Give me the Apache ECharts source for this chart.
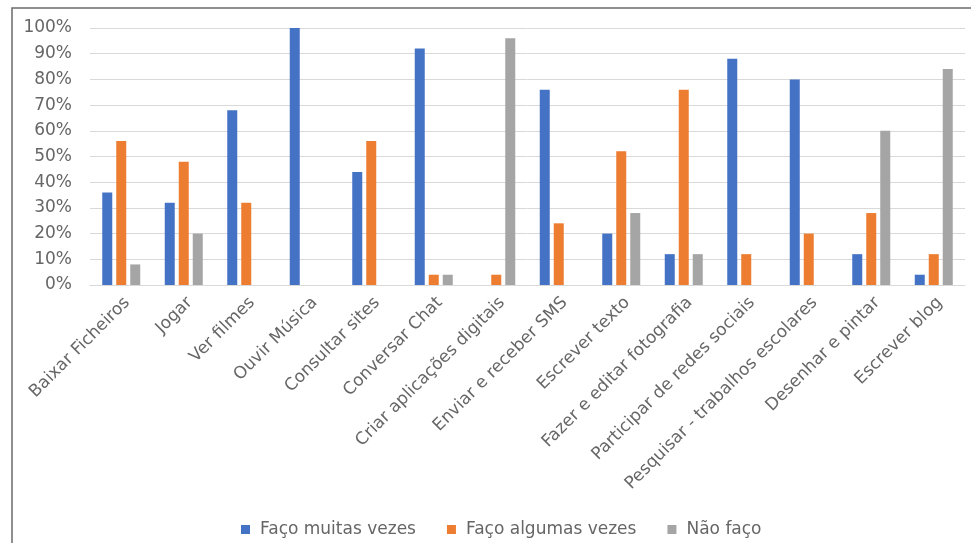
<!DOCTYPE html>
<html>
<head>
<meta charset="utf-8">
<script src="https://cdn.jsdelivr.net/npm/echarts@6/dist/echarts.min.js"></script>
<style>
  html, body { margin: 0; padding: 0; background: #fff; }
  #chart { width: 971px; height: 543px; }
</style>
</head>
<body>
<div id="chart"></div>
<script>
// Activities (x axis categories)
const categories = [
  'Baixar Ficheiros', 'Jogar', 'Ver filmes', 'Ouvir Música', 'Consultar sites',
  'Conversar Chat', 'Criar aplicações digitais', 'Enviar e receber SMS',
  'Escrever texto', 'Fazer e editar fotografia', 'Participar de redes sociais',
  'Pesquisar - trabalhos escolares', 'Desenhar e pintar', 'Escrever blog'
];

// Share of answers per activity, in percent
const facoMuitasVezes   = [36, 32, 68, 100, 44, 92, 0, 76, 20, 12, 88, 80, 12, 4];
const facoAlgumasVezes  = [56, 48, 32, 0, 56, 4, 4, 24, 52, 76, 12, 20, 28, 12];
const naoFaco           = [8, 20, 0, 0, 0, 4, 96, 0, 28, 12, 0, 0, 60, 84];

const seriesNames = ['Faço muitas vezes', 'Faço algumas vezes', 'Não faço'];
const yTicks = { min: 0, max: 100, interval: 10 };

const textColor = '#666666';
const fontFamily = '"DejaVu Sans", "Open Sans", sans-serif';

const chart = echarts.init(document.getElementById('chart'), null, { renderer: 'canvas' });

function barSeries(name, data, color) {
  return {
    name: name,
    type: 'bar',
    data: data,
    barWidth: 10,
    barGap: '40%',
    itemStyle: { color: color },
    emphasis: { disabled: true }
  };
}

chart.setOption({
  animation: false,
  textStyle: { fontFamily: fontFamily },
  graphic: [{
    type: 'rect',
    shape: { x: 12, y: 8, width: 975, height: 560 },
    style: { fill: 'none', stroke: '#6b6b6b', lineWidth: 1.5 },
    silent: true
  }],
  grid: { left: 90, right: 6, top: 28, bottom: 258, containLabel: false },
  legend: {
    data: seriesNames,
    left: 236,
    top: 516,
    itemWidth: 9,
    itemHeight: 9,
    itemGap: 31,
    icon: 'rect',
    textStyle: {
      color: textColor,
      fontSize: 17,
      fontFamily: fontFamily,
      padding: [0, 0, 0, 5]
    }
  },
  xAxis: {
    type: 'category',
    data: categories,
    axisTick: { show: false },
    axisLine: { lineStyle: { color: '#d9d9d9', width: 1 } },
    axisLabel: {
      rotate: 45,
      interval: 0,
      margin: 9,
      verticalAlign: 'top',
      color: textColor,
      fontSize: 17,
      fontFamily: fontFamily
    }
  },
  yAxis: {
    type: 'value',
    min: yTicks.min,
    max: yTicks.max,
    interval: yTicks.interval,
    axisLine: { show: false },
    axisTick: { show: false },
    splitLine: { lineStyle: { color: '#d9d9d9', width: 1 } },
    axisLabel: {
      formatter: '{value}%',
      color: textColor,
      fontSize: 17,
      margin: 18,
      fontFamily: fontFamily
    }
  },
  series: [
    barSeries(seriesNames[0], facoMuitasVezes, '#4472C4'),
    barSeries(seriesNames[1], facoAlgumasVezes, '#ED7D31'),
    barSeries(seriesNames[2], naoFaco, '#A5A5A5')
  ]
});
</script>
</body>
</html>
